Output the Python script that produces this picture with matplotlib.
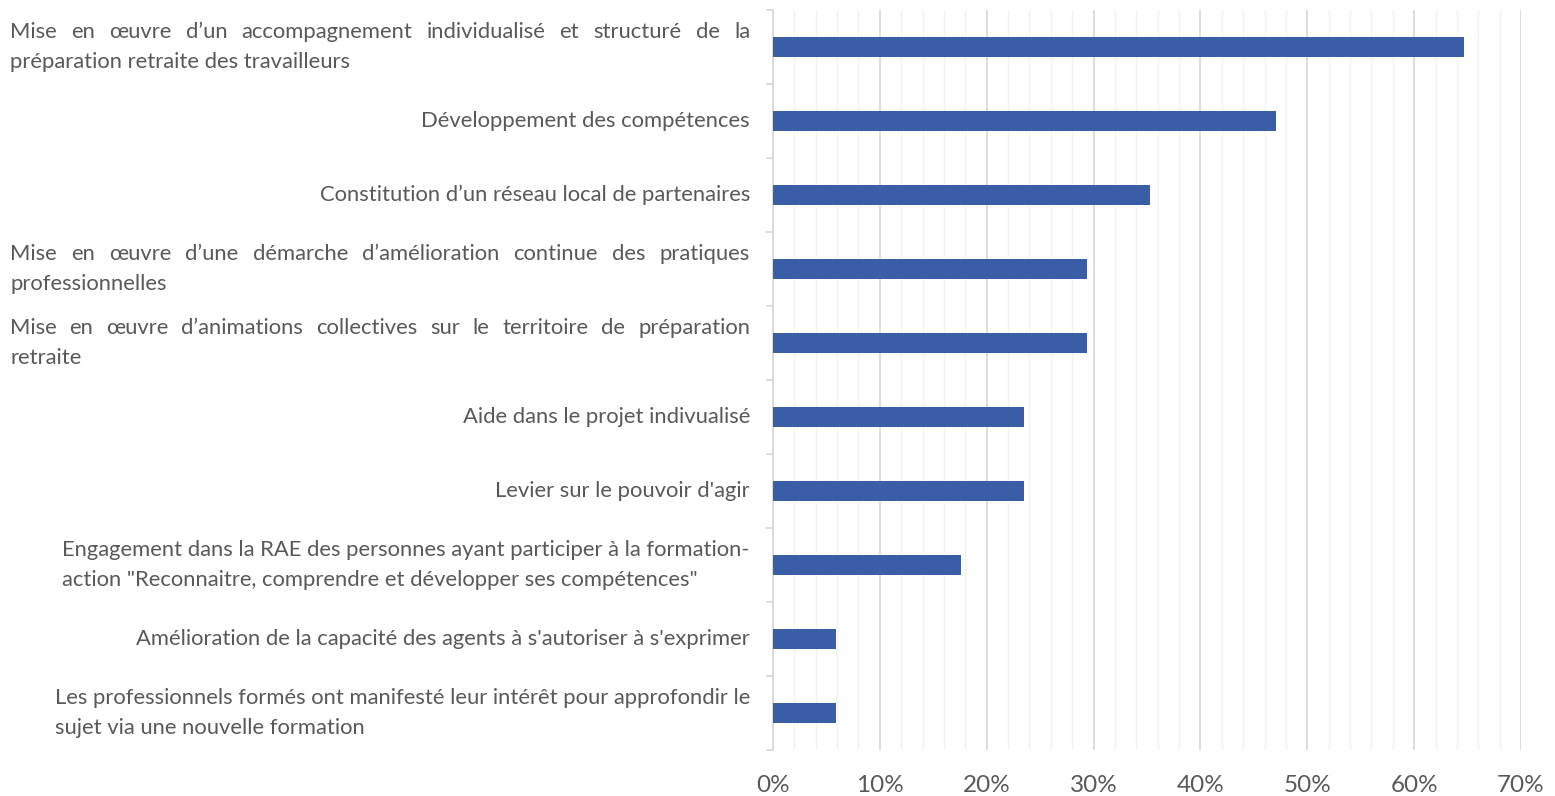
import numpy as np
import matplotlib.pyplot as plt
from matplotlib.transforms import blended_transform_factory, ScaledTranslation

plt.switch_backend('Agg')

# Data (top to bottom)
labels = [
    ["Mise en œuvre d’un accompagnement individualisé et structuré de la",
     "préparation retraite des travailleurs"],
    ["Développement des compétences"],
    ["Constitution d’un réseau local de partenaires"],
    ["Mise en œuvre d’une démarche d’amélioration continue des pratiques",
     "professionnelles"],
    ["Mise en œuvre d’animations collectives sur le territoire de préparation",
     "retraite"],
    ["Aide dans le projet indivualisé"],
    ["Levier sur le pouvoir d'agir"],
    ["Engagement dans la RAE des personnes ayant participer à la formation-",
     "action \"Reconnaitre, comprendre et développer ses compétences\""],
    ["Amélioration de la capacité des agents à s'autoriser à s'exprimer"],
    ["Les professionnels formés ont manifesté leur intérêt pour approfondir le",
     "sujet via une nouvelle formation"],
]
justified = [True, False, False, True, True, False, False, False, False, False]
values = [64.7, 47.1, 35.3, 29.4, 29.4, 23.5, 23.5, 17.6, 5.9, 5.9]
xticks = [0, 10, 20, 30, 40, 50, 60, 70]

bar_color = "#3A5EA6"
text_color = "#595959"
font = "Lato"
fsize = 15.8

fig = plt.figure(figsize=(15.55, 7.96), dpi=100)
W, H = 1555, 796
ax = fig.add_axes([773 / W, 1 - 750 / H, (1521 - 773) / W, (750 - 10) / H])

y = np.arange(len(values))
ax.barh(y, values, height=0.26, color=bar_color, zorder=3)
ax.set_ylim(len(values) - 0.5, -0.5)
ax.set_xlim(0, 70)

ax.set_xticks(xticks)
ax.set_xticklabels([f"{t}%" for t in xticks], fontsize=17.5, color=text_color,
                   family=font)
ax.set_xticks(np.arange(0, 71, 2), minor=True)
ax.tick_params(axis="x", which="both", length=0, pad=18)
ax.grid(axis="x", which="major", color="#D9D9D9", linewidth=1.3, zorder=0)
ax.grid(axis="x", which="minor", color="#F2F2F2", linewidth=1.0, zorder=0)
ax.set_axisbelow(True)

ax.set_yticks(np.arange(-0.5, len(values) + 0.5, 1))
ax.set_yticklabels([])
ax.tick_params(axis="y", length=5, color="#D9D9D9", width=1.3)

for s in ["top", "right", "bottom"]:
    ax.spines[s].set_visible(False)
ax.spines["left"].set_color("#D9D9D9")
ax.spines["left"].set_linewidth(1.3)

# category labels, justified where the original is
renderer = fig.canvas.get_renderer()
trans = blended_transform_factory(fig.transFigure, ax.transData)
x_right = 750 / W
x_left = 10 / W
line_gap = 30 / 100 * 72  # points

for i, lines in enumerate(labels):
    n = len(lines)
    for j, line in enumerate(lines):
        dy = ((n - 1) / 2 - j) * line_gap
        tr = trans + ScaledTranslation(0, dy / 72, fig.dpi_scale_trans)
        if justified[i] and j < n - 1:
            words = line.split(" ")
            widths = []
            for w in words:
                t = fig.text(0, 0, w, fontsize=fsize, family=font)
                widths.append(t.get_window_extent(renderer).width)
                t.remove()
            gap = ((x_right - x_left) * W - sum(widths)) / (len(words) - 1)
            xpos = x_left * W
            for w, wd in zip(words, widths):
                fig.text(xpos / W, i, w, transform=tr, fontsize=fsize,
                         family=font, color=text_color, va="center", ha="left")
                xpos += wd + gap
        elif n > 1:
            # left aligned block that ends at the right edge
            first = lines[0]
            t = fig.text(0, 0, first, fontsize=fsize, family=font)
            wd = t.get_window_extent(renderer).width
            t.remove()
            xl = x_right - wd / W
            if justified[i]:
                xl = x_left
            fig.text(xl, i, line, transform=tr, fontsize=fsize, family=font,
                     color=text_color, va="center", ha="left")
        else:
            fig.text(x_right, i, line, transform=tr, fontsize=fsize,
                     family=font, color=text_color, va="center", ha="right")

fig.savefig("out.png", dpi=100)
